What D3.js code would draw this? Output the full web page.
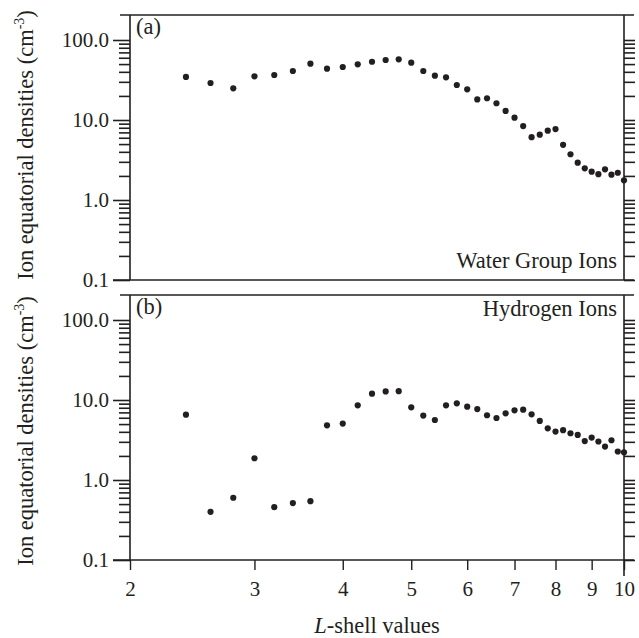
<html>
<head>
<script src="https://cdn.jsdelivr.net/npm/d3@7"></script>
<style>
body { margin: 0; background: #fff; }
svg text { font-family: "Liberation Serif", "Times New Roman", serif !important; }
</style>
</head>
<body>
<div id="chart"></div>
<script>

///////////////////////////////////////////
//////////////  data  /////////////////////
///////////////////////////////////////////

var lshell = [2.4, 2.6, 2.8, 3.0, 3.2, 3.4, 3.6, 3.8, 4.0, 4.2, 4.4, 4.6, 4.8,
  5.0, 5.2, 5.4, 5.6, 5.8, 6.0, 6.2, 6.4, 6.6, 6.8, 7.0, 7.2, 7.4, 7.6, 7.8,
  8.0, 8.2, 8.4, 8.6, 8.8, 9.0, 9.2, 9.4, 9.6, 9.8, 10.0];

var waterDensity = [34.5, 29.0, 24.9, 35.2, 36.5, 41.0, 50.6, 43.8, 46.0, 49.7,
  53.5, 56.2, 57.4, 52.0, 41.0, 35.8, 34.2, 27.4, 24.2, 18.1, 18.7, 16.2, 13.0,
  10.7, 8.4, 6.1, 6.55, 7.35, 7.7, 4.9, 3.73, 2.93, 2.49, 2.26, 2.10, 2.42,
  2.07, 2.19, 1.76];

var hydrogenDensity = [6.56, 0.40, 0.60, 1.87, 0.458, 0.514, 0.544, 4.83, 5.07,
  8.58, 12.0, 12.8, 12.9, 8.1, 6.38, 5.62, 8.58, 9.09, 8.26, 7.71, 6.45, 5.96,
  6.82, 7.43, 7.58, 6.62, 5.47, 4.43, 4.03, 4.19, 3.84, 3.66, 3.07, 3.39, 3.03,
  2.62, 3.14, 2.27, 2.22];

var xTicks = [2, 3, 4, 5, 6, 7, 8, 9, 10];
var yMajorTicks = [0.1, 1, 10, 100];
var yMinorTicks = [0.2, 0.3, 0.4, 0.5, 0.6, 0.7, 0.8, 0.9,
  2, 3, 4, 5, 6, 7, 8, 9, 20, 30, 40, 50, 60, 70, 80, 90, 200];

var panels = [
  { tag: "(a)", name: "Water Group Ions", values: waterDensity, top: 15, nameY: 268, titleY: 145 },
  { tag: "(b)", name: "Hydrogen Ions", values: hydrogenDensity, top: 295, nameY: 316, titleY: 431 }
];

///////////////////////////////////////////
//////////////  setup  ////////////////////
///////////////////////////////////////////

var width = 639;
var height = 638;
var left = 130, right = 624;
var panelH = 265;
var ink = "#231f20";
var serif = "Liberation Serif";

var svg = d3.select("#chart").append("svg")
  .attr("width", width).attr("height", height)
  .attr("font-family", serif);

var x = d3.scaleLog().domain([2, 10]).range([left, right]);

function txt(sel, size) {
  return sel.attr("font-family", serif).attr("font-size", size).attr("fill", ink);
}

function drawPanel(p) {
  var bottom = p.top + panelH;
  // 0.1 at the bottom, one decade = 80px
  var y = d3.scaleLog().domain([0.1, 0.1 * Math.pow(10, panelH / 80)]).range([bottom, p.top]);
  var g = svg.append("g");

  // minor ticks left + right
  var minor = yMinorTicks.filter(d => y(d) > p.top + 1);
  g.append("g").attr("transform", "translate(" + left + ",0)")
    .call(d3.axisLeft(y).tickValues(minor).tickSize(11).tickFormat(""));
  g.append("g").attr("transform", "translate(" + right + ",0)")
    .call(d3.axisRight(y).tickValues(minor.concat(yMajorTicks)).tickSize(11).tickFormat(""));

  // major ticks with labels
  g.append("g").attr("transform", "translate(" + left + ",0)")
    .call(d3.axisLeft(y).tickValues(yMajorTicks).tickSize(17).tickPadding(4)
      .tickFormat(d3.format(".1f")));

  g.selectAll(".domain").remove();
  g.selectAll("g").attr("font-family", serif);
  g.selectAll(".tick line").attr("stroke", ink).attr("stroke-width", 1.4);
  txt(g.selectAll(".tick text"), 21);

  // frame
  g.append("line").attr("x1", 120).attr("x2", 634).attr("y1", p.top).attr("y2", p.top);
  g.append("line").attr("x1", 113).attr("x2", 634).attr("y1", bottom).attr("y2", bottom);
  g.append("line").attr("x1", left).attr("x2", left).attr("y1", p.top).attr("y2", bottom);
  g.append("line").attr("x1", right).attr("x2", right).attr("y1", p.top).attr("y2", bottom);
  g.selectAll("g > line").attr("stroke", ink).attr("stroke-width", 1.6);

  // dots
  g.selectAll(".dot").data(p.values).enter().append("circle")
    .attr("class", "dot")
    .attr("cx", (d, i) => x(lshell[i]))
    .attr("cy", d => y(d))
    .attr("r", 3.1)
    .attr("fill", ink);

  // labels
  txt(g.append("text").attr("x", 136).attr("y", p.top + 19), 22.5).text(p.tag);
  txt(g.append("text").attr("x", 617).attr("y", p.nameY).attr("text-anchor", "end"), 22.5)
    .text(p.name);

  // y title
  var t = txt(svg.append("text")
    .attr("transform", "translate(33," + p.titleY + ") rotate(-90)")
    .attr("text-anchor", "middle"), 22.5);
  t.append("tspan").text("Ion equatorial densities (cm");
  t.append("tspan").attr("dy", -9).attr("font-size", 14).text("-3");
  t.append("tspan").attr("dy", 9).text(")");
}

panels.forEach(drawPanel);

///////////////////////////////////////////
//////////////  x axis  ///////////////////
///////////////////////////////////////////

var xg = svg.append("g").attr("transform", "translate(0,560)")
  .call(d3.axisBottom(x).tickValues(xTicks).tickSize(10).tickPadding(11)
    .tickFormat(d3.format("d")));
xg.attr("font-family", serif);
xg.select(".domain").remove();
xg.selectAll(".tick line").attr("stroke", ink).attr("stroke-width", 1.4);
txt(xg.selectAll(".tick text"), 21);

// right axis runs on below the last tick
svg.append("line").attr("x1", right).attr("x2", right).attr("y1", 560).attr("y2", 576)
  .attr("stroke", ink).attr("stroke-width", 1.6);

var xt = txt(svg.append("text").attr("x", 377).attr("y", 633).attr("text-anchor", "middle"), 22.5);
xt.append("tspan").attr("font-style", "italic").text("L");
xt.append("tspan").text("-shell values");

</script>
</body>
</html>
